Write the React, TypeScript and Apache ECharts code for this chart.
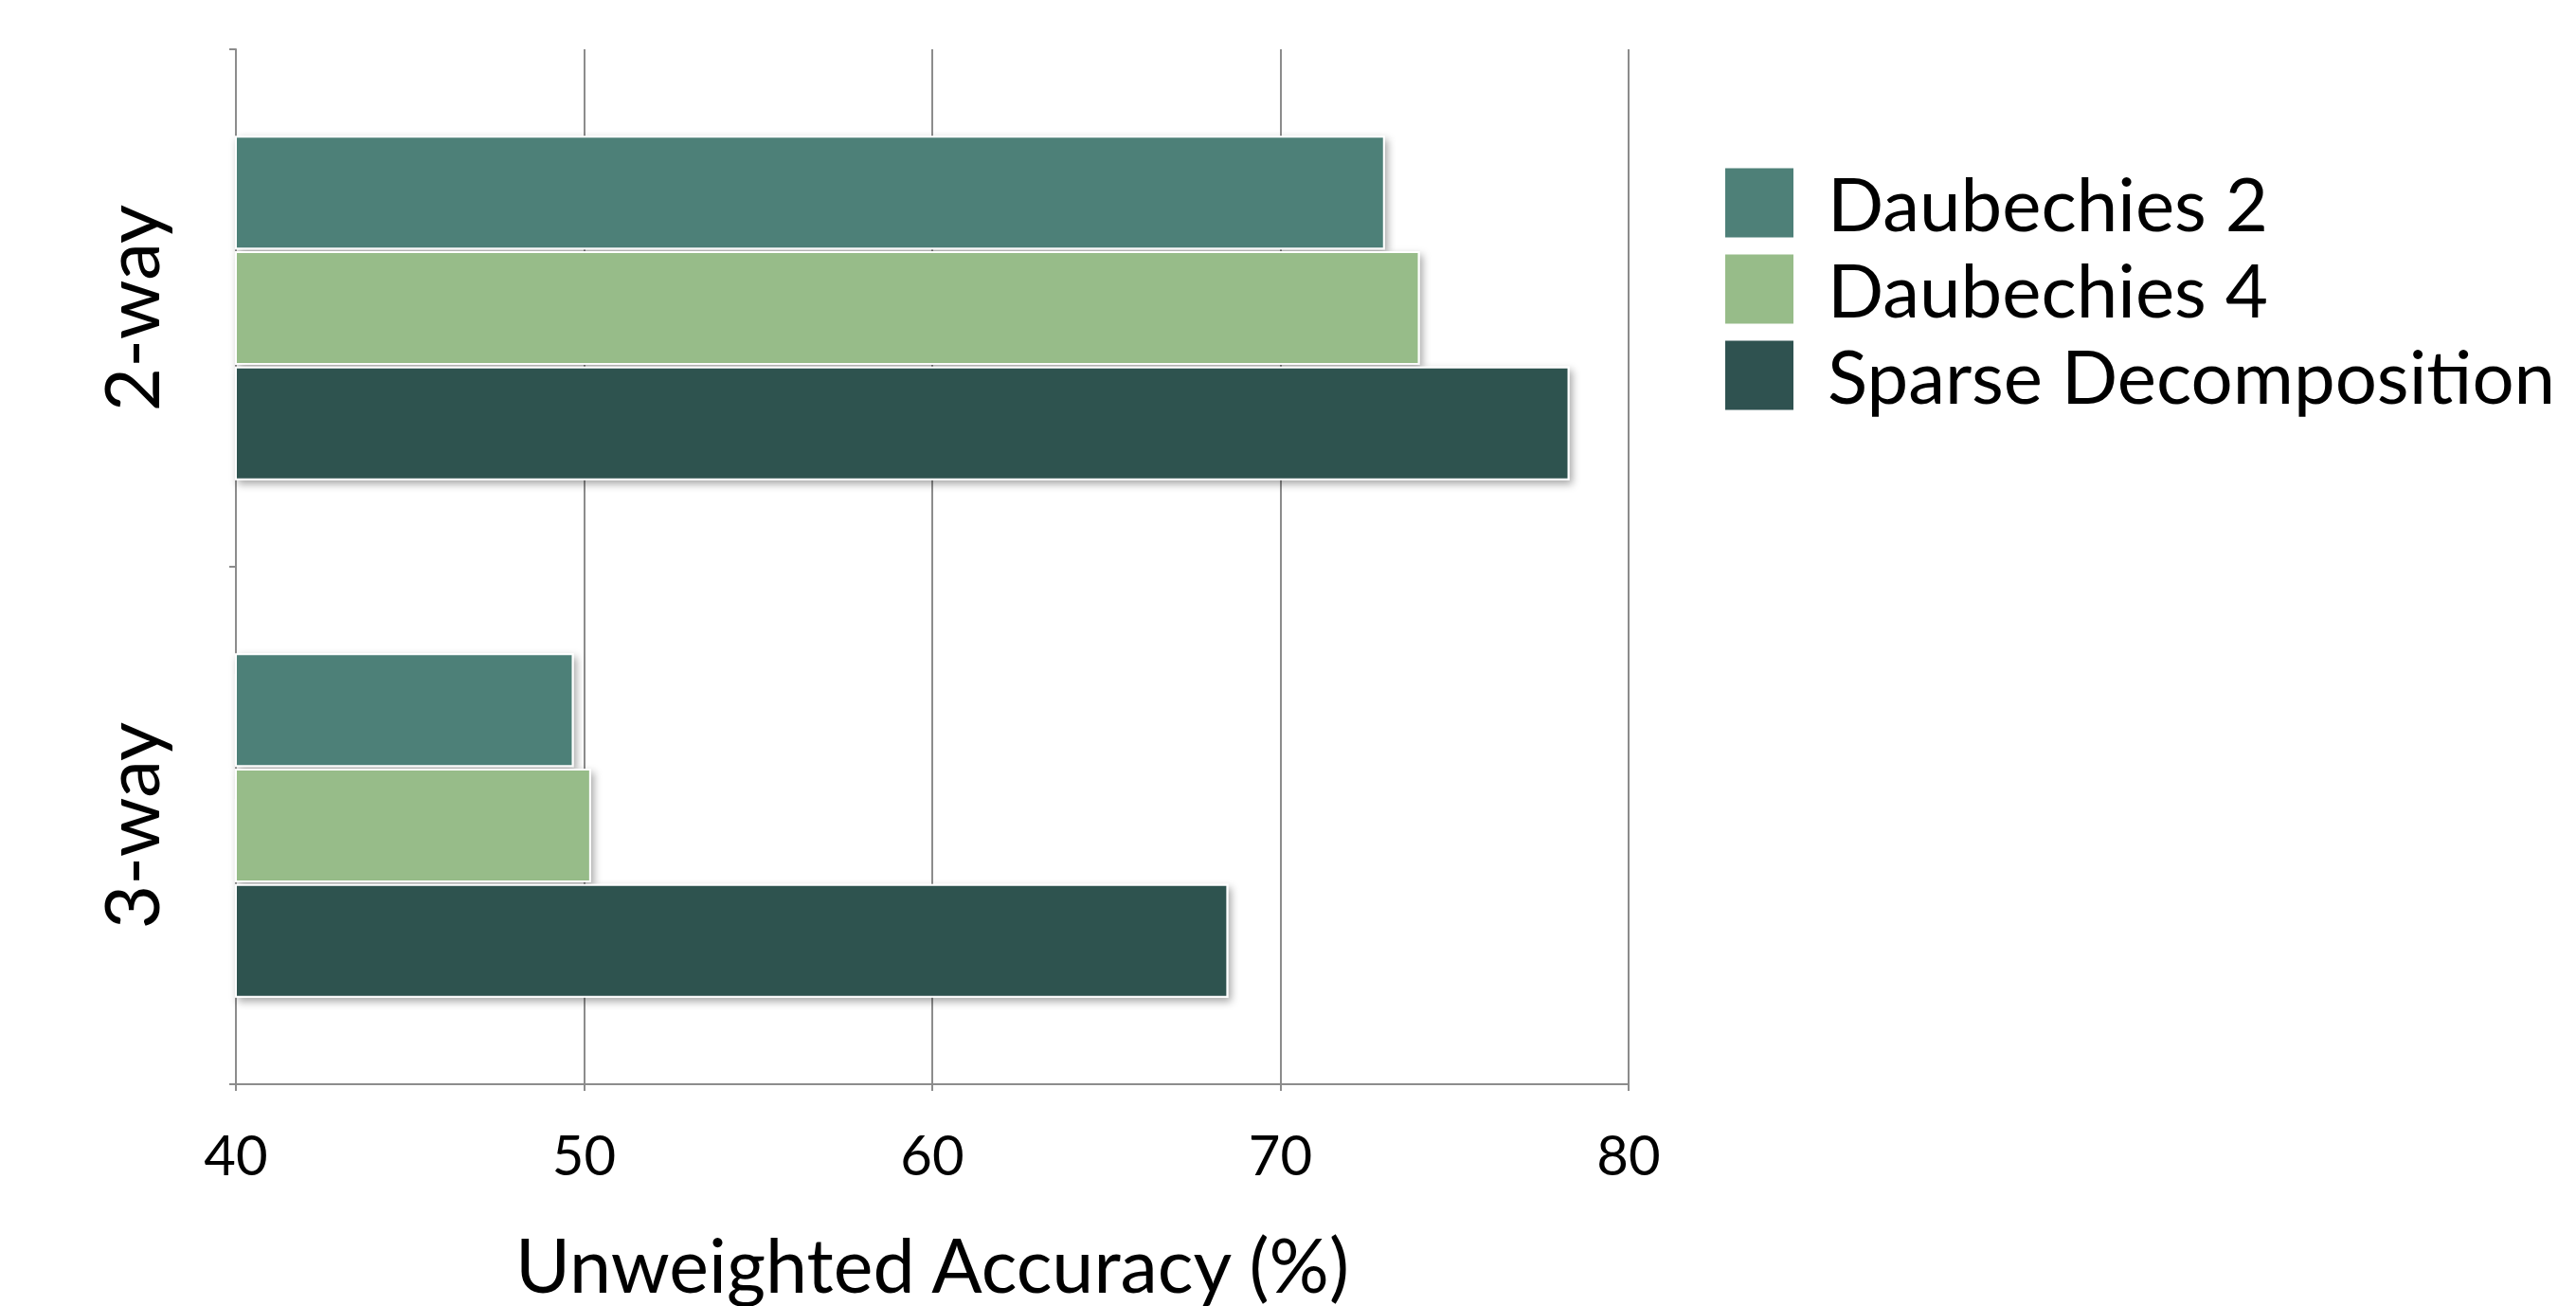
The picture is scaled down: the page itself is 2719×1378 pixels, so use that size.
import React, { useEffect, useRef } from "react";
import * as echarts from "echarts";

// Task groupings shown on the category axis, top to bottom
const categories = ["2-way", "3-way"];

// Unweighted accuracy (%) per feature extraction method
const seriesNames = ["Daubechies 2", "Daubechies 4", "Sparse Decomposition"];
const daubechies2 = [73.0, 49.7];
const daubechies4 = [74.0, 50.2];
const sparseDecomposition = [78.3, 68.5];

const xTicks = [40, 50, 60, 70, 80];
const axisTitle = "Unweighted Accuracy (%)";

const colors = ["#4E8078", "#97BC89", "#2F5250"];
const FONT = "Lato, 'Open Sans', sans-serif";
const GRID_GRAY = "#8C8C8C";

export default function App() {
  const ref = useRef<HTMLDivElement>(null);

  useEffect(() => {
    if (!ref.current) return;
    const chart = echarts.init(ref.current, undefined, { renderer: "svg" });

    const values = [daubechies2, daubechies4, sparseDecomposition];

    chart.setOption({
      animation: false,
      backgroundColor: "#ffffff",
      textStyle: { fontFamily: FONT, color: "#000" },
      grid: { left: 249, right: 1000, top: 52, bottom: 230, containLabel: false },
      legend: {
        orient: "vertical",
        left: 1816,
        top: 170,
        itemWidth: 72,
        itemHeight: 73,
        itemGap: 13,
        icon: "rect",
        data: seriesNames,
        itemStyle: { borderWidth: 0, shadowBlur: 0, shadowOffsetX: 0, shadowOffsetY: 0 },
        textStyle: {
          fontFamily: FONT,
          fontSize: 78,
          color: "#000",
          padding: [0, 0, 0, 31],
        },
      },
      xAxis: {
        type: "value",
        min: xTicks[0],
        max: xTicks[xTicks.length - 1],
        interval: 10,
        name: axisTitle,
        nameLocation: "middle",
        nameGap: 150,
        nameTextStyle: { fontFamily: FONT, fontSize: 79, color: "#000" },
        axisLine: { show: true, lineStyle: { color: GRID_GRAY, width: 2 } },
        axisTick: { show: true, length: 7, lineStyle: { color: GRID_GRAY, width: 2 } },
        axisLabel: { fontFamily: FONT, fontSize: 58, color: "#000", margin: 44 },
        splitLine: { show: true, lineStyle: { color: GRID_GRAY, width: 2 } },
      },
      yAxis: {
        type: "category",
        inverse: true,
        data: categories,
        axisLine: { show: true, lineStyle: { color: GRID_GRAY, width: 2 } },
        axisTick: { show: true, length: 7, lineStyle: { color: GRID_GRAY, width: 2 } },
        axisLabel: {
          rotate: 90,
          fontFamily: FONT,
          fontSize: 80,
          color: "#000",
          margin: 72,
        },
        splitLine: { show: false },
      },
      series: seriesNames.map((name, i) => ({
        name,
        type: "bar",
        data: values[i],
        barWidth: 120,
        barGap: "1.5%",
        itemStyle: {
          color: colors[i],
          borderColor: "#ffffff",
          borderWidth: 2,
          shadowColor: "rgba(0,0,0,0.35)",
          shadowBlur: 8,
          shadowOffsetX: 3,
          shadowOffsetY: 4,
        },
      })),
    });

    return () => chart.dispose();
  }, []);

  return (
    <div
      ref={ref}
      style={{ position: "fixed", left: 0, top: 0, width: 2719, height: 1378 }}
    />
  );
}
